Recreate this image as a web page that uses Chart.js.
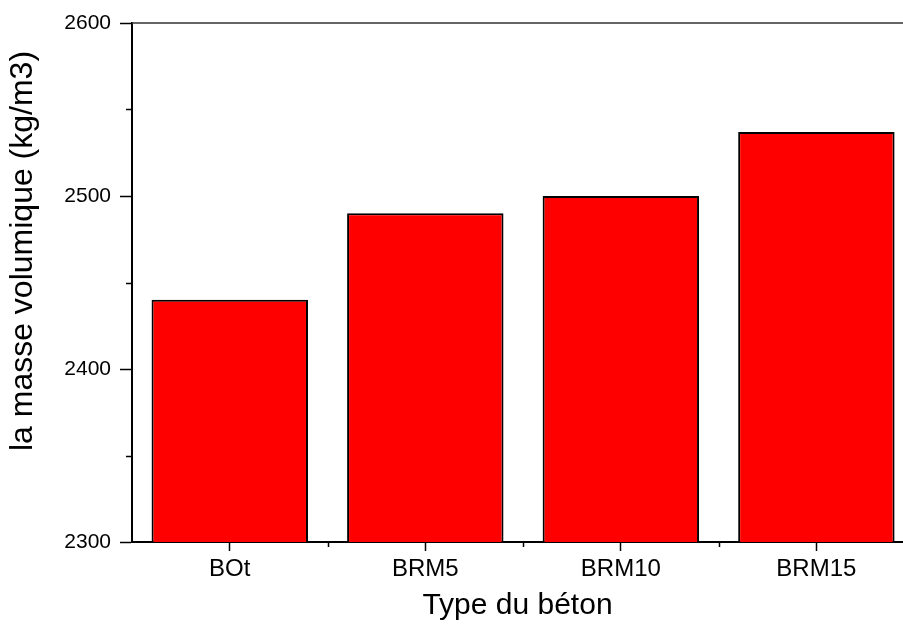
<!DOCTYPE html>
<html>
<head>
<meta charset="utf-8">
<script src="https://cdn.jsdelivr.net/npm/chart.js@4.4.1/dist/chart.umd.min.js"></script>
<style>
  html, body { margin: 0; padding: 0; background: #fff; }
  #wrap { width: 903px; height: 624px; position: relative; }
</style>
</head>
<body>
<div id="wrap"><canvas id="chart"></canvas></div>
<script>
// data
const categories = ['BOt', 'BRM5', 'BRM10', 'BRM15'];
const positions = [1, 2, 3, 4];
const density = [2440, 2490, 2500, 2537];
const yTicks = [2300, 2400, 2500, 2600];
const yMinorTicks = [2350, 2450, 2550];
const xMinorTicks = [1.5, 2.5, 3.5];
const xTitle = 'Type du béton';
const yTitle = 'la masse volumique (kg/m3)';

const FONT = "'Liberation Sans', Arial, sans-serif";

// origin style extras: minor ticks, top frame line, y title
const originExtras = {
    id: 'originExtras',
    afterDraw(chart) {
        const {ctx, chartArea: {left, right, top, bottom}, scales: {x, y}} = chart;
        ctx.save();
        ctx.strokeStyle = '#000';
        ctx.lineWidth = 1.5;
        ctx.beginPath();
        yMinorTicks.forEach(v => {
            const py = Math.round(y.getPixelForValue(v)) + 0.5;
            ctx.moveTo(left - 6, py);
            ctx.lineTo(left, py);
        });
        xMinorTicks.forEach(v => {
            const px = Math.round(x.getPixelForValue(v)) + 0.5;
            ctx.moveTo(px, bottom);
            ctx.lineTo(px, bottom + 5);
        });
        ctx.stroke();

        // top line
        ctx.strokeStyle = '#333';
        ctx.lineWidth = 1.5;
        ctx.beginPath();
        ctx.moveTo(left, top);
        ctx.lineTo(right, top);
        ctx.stroke();

        // y title
        ctx.fillStyle = '#000';
        ctx.font = '32px ' + FONT;
        ctx.textAlign = 'center';
        ctx.textBaseline = 'alphabetic';
        ctx.translate(32, 251);
        ctx.rotate(-Math.PI / 2);
        ctx.fillText(yTitle, 0, 0);
        ctx.restore();
    }
};

const points = positions.map((p, i) => ({x: p, y: density[i]}));

new Chart(document.getElementById('chart'), {
    type: 'bar',
    data: {
        datasets: [{
            data: points,
            backgroundColor: '#ff0000',
            borderColor: '#000',
            borderWidth: 2,
            borderSkipped: false,
            barPercentage: 0.8,
            categoryPercentage: 1
        }]
    },
    plugins: [originExtras],
    options: {
        responsive: true,
        maintainAspectRatio: false,
        animation: false,
        layout: { padding: { top: 23, right: 0, left: 0, bottom: 0 } },
        plugins: {
            legend: { display: false },
            tooltip: { enabled: false }
        },
        scales: {
            x: {
                type: 'linear',
                min: 0.5,
                max: 4.443,
                offset: false,
                afterBuildTicks: (ax) => { ax.ticks = positions.map(v => ({value: v})); },
                afterFit: (ax) => { ax.height = 82; },
                ticks: {
                    callback: (v) => categories[positions.indexOf(v)] ?? '',
                    font: { family: FONT, size: 24 },
                    color: '#000',
                    padding: 4,
                    maxRotation: 0,
                    autoSkip: false
                },
                grid: {
                    offset: false,
                    drawOnChartArea: false,
                    drawTicks: true,
                    tickLength: 9,
                    tickWidth: 1.5,
                    tickColor: '#000'
                },
                border: { display: true, color: '#000', width: 2 },
                title: {
                    display: true,
                    text: xTitle,
                    font: { family: FONT, size: 30 },
                    color: '#000',
                    padding: { top: 0, bottom: 0 }
                }
            },
            y: {
                min: 2300,
                max: 2600,
                afterBuildTicks: (ax) => { ax.ticks = yTicks.map(v => ({value: v})); },
                afterFit: (ax) => { ax.width = 132; },
                ticks: {
                    callback: (v) => String(v),
                    font: { family: FONT, size: 21 },
                    color: '#000',
                    padding: 9
                },
                grid: {
                    drawOnChartArea: false,
                    drawTicks: true,
                    tickLength: 12,
                    tickWidth: 1.5,
                    tickColor: '#000'
                },
                border: { display: true, color: '#000', width: 2 }
            }
        }
    }
});
</script>
</body>
</html>
